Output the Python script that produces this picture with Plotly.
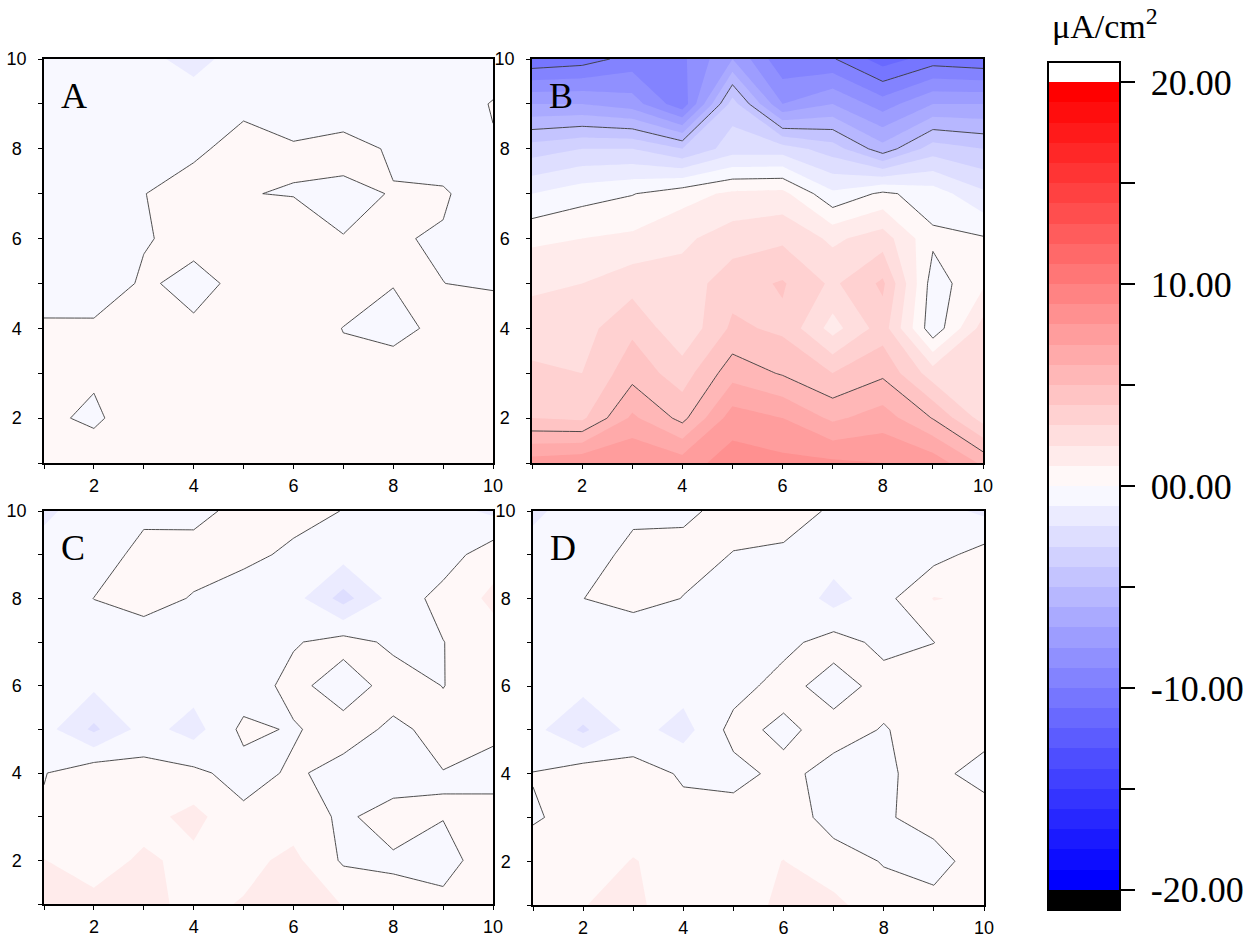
import plotly.graph_objects as go

W, H = 1255, 938

x_vals = [1, 2, 3, 4, 5, 6, 7, 8, 9, 10]
y_vals = [1, 2, 3, 4, 5, 6, 7, 8, 9, 10]

# each row is one y value (1 .. 10), columns are x = 1 .. 10 ; units: uA/cm2
panel_a = [
    [0.4, 0.335, 0.4, 0.5, 0.5, 0.5, 0.5, 0.5, 0.5, 0.5],
    [0.113, -0.1, 0.355, 0.5, 0.5, 0.5, 0.5, 0.5, 0.5, 0.5],
    [0.4, 0.08, 0.4, 0.5, 0.5, 0.5, 0.18, 0.45, 0.5, 0.5],
    [0.15, 0.2, 0.4, 0.155, 0.5, 0.5, -0.02, -0.3, 0.266, 0.525],
    [-0.5, -0.68, 0.15, -0.3, 0.266, 0.6, 0.5, 0.033, 0.005, -0.1],
    [-0.5, -0.03, -0.08, 0.3, 0.5, 0.425, 0.022, 0.059, -0.072, -0.3],
    [-0.6, -0.5, -0.04, 0.745, 0.02, -0.032, -0.2, 0.04, 0.1, -0.525],
    [-0.6, -0.5, -0.45, -0.335, 0.65, 0.10, 0.30, -0.10, -0.49, -0.066],
    [-0.6, -0.6, -0.55, -0.55, -0.4, -0.5, -0.5, -0.5, -0.45, 0.05],
    [-0.6, -0.65, -0.755, -1.3, -0.586, -0.7, -0.7, -0.6, -0.6, -0.5],
]

panel_b = [
    [7.5, 7.8, 8.0, 7.5, 8.5, 8.3, 8.2, 8.0, 7.6, 5.8],
    [4.0, 3.8, 6.2, 4.7, 7.5, 7.0, 5.8, 6.5, 4.95, 2.6],
    [3.2, 3.0, 4.6, 3.5, 5.6, 4.9, 4.0, 4.8, 2.5, 2.5],
    [2.5, 2.6, 3.8, 2.2, 4.2, 3.8, 1.6, 3.5, -0.7, 2.4],
    [1.8, 2.0, 2.6, 2.4, 3.6, 4.1, 2.8, 4.2, -0.5, 0.8],
    [0.8, 1.0, 1.2, 1.8, 2.5, 2.8, 1.8, 2.5, 0.2, 0.1],
    [-1.0, -0.4, -0.05, 0.6, 1.2, 1.3, -0.8, 0.2, -0.47, -1.8],
    [-3.5, -3.0, -3.0, -4.0, -2.5, -2.5, -3.5, -5.6, -3.5, -4.0],
    [-7.0, -7.0, -7.5, -9.7, -3.5, -8.0, -7.0, -8.5, -7.0, -7.0],
    [-10.8, -10.5, -9.6, -9.2, -7.0, -9.8, -9.9, -11.5, -10.53, -10.8],
]

panel_c = [
    [1.3, 1.235, 1.3, 0.72, 1.07, 1.3, 0.98, 0.27, 0.167, 0.5],
    [1.02, 0.6, 1.15, 0.755, 0.7, 1.26, -0.148, -0.122, -0.25, 0.375],
    [0.135, 0.4, 0.67, 1.3, 0.23, 0.5, -0.158, 0.387, 0.025, 0.51],
    [-0.05, 0.7, 0.35, 0.23, -0.4, 0.15, -0.35, -0.53, -0.023, -0.47],
    [-0.6, -2.2, -0.6, -1.4, 0.25, -0.1, 0.45, -0.2, 0.3, 0.3],
    [-0.6, -0.8, -0.6, -0.6, -0.6, 0.35, -0.6, 0.45, -0.02, 0.5],
    [-0.5, -0.4, -0.7, -0.5, -0.5, -0.1, 0.4, -0.2, -0.02, 0.6],
    [-0.6, 0.01, 0.5, -0.088, -0.8, -0.6, -2.4, -0.6, 0.35, 1.2],
    [-0.6, -0.5, 0.3, 0.5, 0.4, -0.3, -0.6, -0.6, -0.5, 0.587],
    [-1.2, -0.5, -0.22, -0.38, 0.4, 0.5, -0.038, -0.5, -0.6, -1.2],
]

panel_d = [
    [0.6, 0.98, 1.2, 0.46, 0.33, 1.3, 1.27, 0.33, 0.39, 0.7],
    [0.28, 0.5, 1.05, 0.6, 0.6, 1.02, 0.376, -0.05, -0.475, 0.656],
    [-0.058, 0.194, 0.5, 0.22, 0.45, 0.5, -0.347, -0.15, 0.475, 0.9],
    [0.025, 0.69, 0.38, -0.095, -0.35, 0.3, -0.4, -0.2, 0.49, -0.68],
    [-0.6, -2.2, -0.6, -1.4, 0.35, -0.25, 0.45, -0.07, 0.5, 0.68],
    [-0.6, -0.6, -0.6, -0.6, -0.4, 0.4, -0.5, 0.4, 0.4, 0.5],
    [-0.5, -0.5, -0.85, -0.6, -0.6, -0.3, 0.45, -0.28, -0.01, 0.7],
    [-0.6, -0.01, 0.4, -0.026, -0.61, -0.05, -1.4, -0.33, 1.05, 0.8],
    [-0.6, -0.5, 0.3, 0.3, -0.03, -0.117, -0.5, -0.5, -0.35, 0.38],
    [-1.2, -0.5, -0.22, -0.18, 0.3, 0.3, -0.095, -0.5, -0.6, -1.2],
]

panel_labels = ["A", "B", "C", "D"]
cbar_tickvals = [-20, -15, -10, -5, 0, 5, 10, 15, 20]
cbar_labels = ["-20.00", "", "-10.00", "", "00.00", "", "10.00", "", "20.00"]
axis_tickvals = [1, 2, 3, 4, 5, 6, 7, 8, 9, 10]
axis_labels = ["", "2", "", "4", "", "6", "", "8", "", "10"]
cbar_title = "\u03bcA/cm<sup>2</sup>"

NBSP = "\u00a0"
# a leading no-break space moves the colour-bar labels away from the ticks
cbar_ticktext = [(NBSP + t) if t else "" for t in cbar_labels]
# y labels are centred on a two-digit width, as in the reference
y_ticktext = [(t + NBSP) if len(t) == 1 else t for t in axis_labels]

# colour scale: band midpoints -19.5..19.5 map blue->white->red,
# outside bands: black below -20, white above 20
n = 41.0
cscale = [
    [0.0, "rgb(0,0,0)"],
    [0.5 / n, "rgb(0,0,0)"],
    [1.0 / n, "rgb(0,0,255)"],
    [0.5, "rgb(255,255,255)"],
    [40.0 / n, "rgb(255,0,0)"],
    [40.5 / n, "rgb(255,255,255)"],
    [1.0, "rgb(255,255,255)"],
]

# panel geometry in pixels (left, right, top, bottom)
boxes = [
    (44, 493, 59, 463),
    (532, 983, 59, 463),
    (44, 493, 511, 904),
    (533, 984, 511, 905),
]

SERIF = "Liberation Serif, Times New Roman, serif"
SANS = "Liberation Sans, Arial, sans-serif"

fig = go.Figure()
panels = [panel_a, panel_b, panel_c, panel_d]
for i, z in enumerate(panels):
    xa = "x" if i == 0 else "x%d" % (i + 1)
    ya = "y" if i == 0 else "y%d" % (i + 1)
    fig.add_trace(go.Contour(
        x=x_vals, y=y_vals, z=z, xaxis=xa, yaxis=ya,
        colorscale=cscale, zmin=-21, zmax=21,
        contours=dict(start=-20, end=20, size=1, coloring="fill", showlines=False),
        line=dict(width=0, smoothing=0),
        showscale=(i == 0),
        colorbar=dict(
            x=1048 / W, xanchor="left", xpad=0,
            y=1 - 62 / H, yanchor="top", ypad=0,
            len=848, lenmode="pixels",
            thickness=72, thicknessmode="pixels",
            outlinewidth=2, outlinecolor="black",
            tickmode="array", tickvals=cbar_tickvals, ticktext=cbar_ticktext,
            ticks="outside", ticklen=14, tickwidth=1.5, tickcolor="black",
            tickfont=dict(family=SERIF, size=36, color="black"),
        ),
        hoverinfo="skip",
    ))
    fig.add_trace(go.Contour(
        x=x_vals, y=y_vals, z=z, xaxis=xa, yaxis=ya,
        contours=dict(start=-20, end=20, size=5, coloring="none", showlines=True),
        line=dict(color="#3a3a3a", width=0.9, smoothing=0),
        showscale=False, hoverinfo="skip",
    ))

layout = dict(
    width=W, height=H,
    margin=dict(l=0, r=0, t=0, b=0, pad=0, autoexpand=False),
    paper_bgcolor="white", plot_bgcolor="white",
    showlegend=False,
)
annotations = []
for i, (l, r, t, b) in enumerate(boxes):
    sx = "" if i == 0 else str(i + 1)
    common = dict(
        range=[1, 10], showgrid=False, zeroline=False,
        showline=True, linecolor="black", linewidth=1.5, mirror=True,
        ticks="outside", ticklen=4, tickwidth=1, tickcolor="black",
        tickmode="array", tickvals=axis_tickvals,
        tickfont=dict(family=SANS, size=18, color="black"),
        fixedrange=True,
    )
    layout["xaxis" + sx] = dict(common, domain=[l / W, r / W], anchor="y" + sx,
                                ticktext=axis_labels, ticklabelstandoff=2)
    layout["yaxis" + sx] = dict(common, domain=[1 - b / H, 1 - t / H], anchor="x" + sx,
                                ticktext=y_ticktext, ticklabelstandoff=8)
    annotations.append(dict(
        text=panel_labels[i], xref="paper", yref="paper",
        x=(l + 15) / W, y=1 - (t + 37) / H, xanchor="left", yanchor="middle",
        showarrow=False, font=dict(family=SERIF, size=36, color="black"),
    ))

annotations.append(dict(
    text=cbar_title, xref="paper", yref="paper",
    x=1105 / W, y=1 - 24 / H, xanchor="center", yanchor="middle",
    showarrow=False, font=dict(family=SERIF, size=34, color="black"),
))
layout["annotations"] = annotations
fig.update_layout(**layout)

fig.write_html("out.html")
